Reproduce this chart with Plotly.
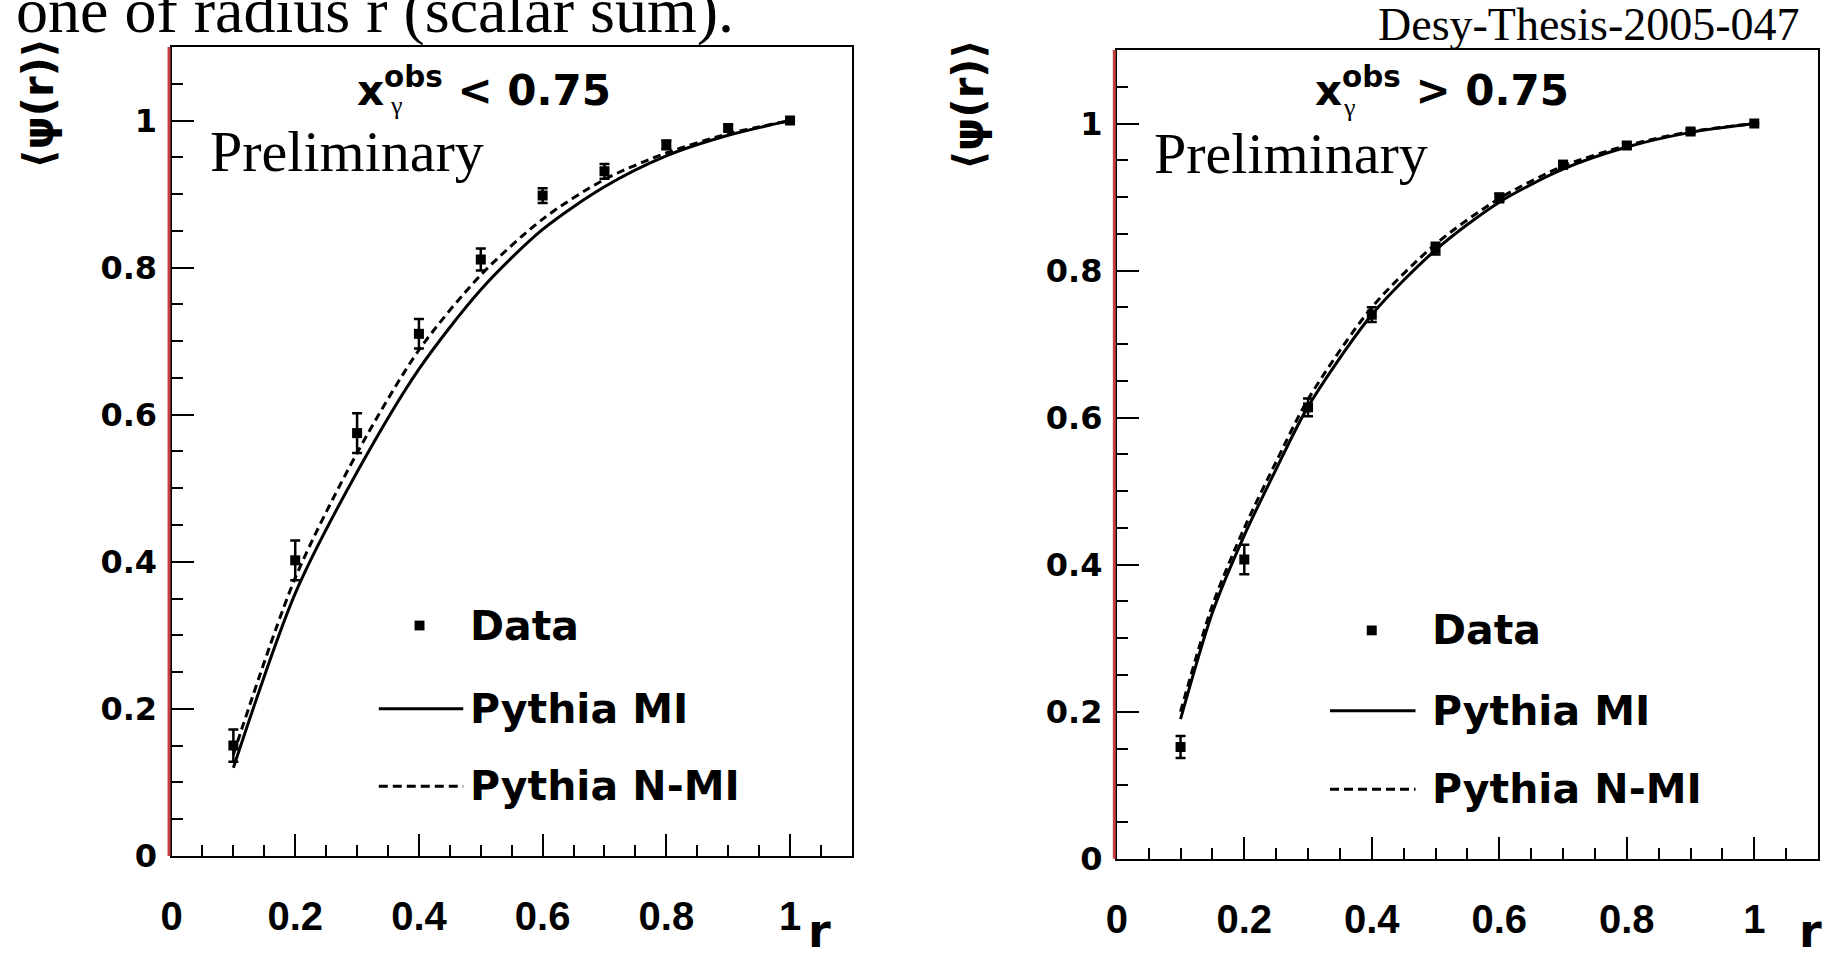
import plotly.graph_objects as go

# ---------------- data ----------------
R_DATA = [0.1, 0.2, 0.3, 0.4, 0.5, 0.6, 0.7, 0.8, 0.9, 1.0]

# x_gamma^obs < 0.75
LOW_DATA = [0.150, 0.402, 0.575, 0.710, 0.811, 0.898, 0.931, 0.967, 0.990, 1.0]
LOW_ERR = [0.022, 0.027, 0.027, 0.020, 0.015, 0.010, 0.010, 0.006, 0.004, 0.0]
LOW_R_CURVE = [0.1, 0.2, 0.3, 0.4, 0.5, 0.6, 0.7, 0.8, 0.9, 1.0]
LOW_MI = [0.120, 0.357, 0.522, 0.662, 0.770, 0.852, 0.910, 0.952, 0.980, 1.0]
LOW_NMI = [0.138, 0.378, 0.548, 0.688, 0.790, 0.866, 0.920, 0.956, 0.982, 1.0]

# x_gamma^obs > 0.75
HIGH_DATA = [0.152, 0.407, 0.614, 0.740, 0.830, 0.899, 0.944, 0.970, 0.989, 1.0]
HIGH_ERR = [0.015, 0.020, 0.012, 0.010, 0.008, 0.006, 0.005, 0.004, 0.003, 0.0]
HIGH_R_CURVE = [0.1, 0.15, 0.2, 0.25, 0.3, 0.4, 0.5, 0.6, 0.7, 0.8, 0.9, 1.0]
HIGH_MI = [0.190, 0.335, 0.440, 0.530, 0.615, 0.740, 0.828, 0.893, 0.938, 0.968, 0.988, 1.0]
HIGH_NMI = [0.200, 0.345, 0.450, 0.540, 0.625, 0.750, 0.836, 0.898, 0.942, 0.970, 0.989, 1.0]

PANEL_LABELS = ["x<sup>obs</sup> < 0.75", "x<sup>obs</sup> > 0.75"]
LEGEND_LABELS = ["Data", "Pythia MI", "Pythia N-MI"]
Y_TITLE = "⟨ψ(r)⟩"
X_TITLE = "r"
HEADER = "one of radius r (scalar sum)."
SOURCE = "Desy-Thesis-2005-047"
PRELIM = "Preliminary"

# ---------------- geometry helpers ----------------
W, H = 1826, 970


def px(x):
    return x / W


def py(y):
    return 1 - y / H


BOLD = "DejaVu Sans, Arial, sans-serif"
TICKX = "Liberation Sans, Arial, sans-serif"
SERIF = "Liberation Serif, Times New Roman, serif"

panels = [
    dict(xa="x", ya="y", xdom=[161.5, 846], ydom=[873, 48],
         data=LOW_DATA, err=LOW_ERR, rc=LOW_R_CURVE, mi=LOW_MI, nmi=LOW_NMI,
         label=PANEL_LABELS[0], label_x=346, gamma=(388, 108),
         leg_marker=(411, 638), leg_line=(370, 455), leg_text=460,
         leg_y=(638, 723, 802), prelim=(198, 155), psi=(28, 105), r=(813, 950)),
    dict(xa="x2", ya="y2", xdom=[1112.5, 1818], ydom=[876, 51],
         data=HIGH_DATA, err=HIGH_ERR, rc=HIGH_R_CURVE, mi=HIGH_MI, nmi=HIGH_NMI,
         label=PANEL_LABELS[1], label_x=1310, gamma=(1347, 110),
         leg_marker=(1369, 643), leg_line=(1327, 1413), leg_text=1428,
         leg_y=(643, 725, 805), prelim=(1148, 157), psi=(964, 107), r=(1810, 950)),
]

fig = go.Figure()
shapes = []
annotations = []

for p in panels:
    fig.add_trace(go.Scatter(x=p["rc"], y=p["mi"], mode="lines", xaxis=p["xa"], yaxis=p["ya"],
                             line=dict(color="black", width=3, shape="spline", smoothing=0.8),
                             name=LEGEND_LABELS[1], showlegend=False))
    fig.add_trace(go.Scatter(x=p["rc"], y=p["nmi"], mode="lines", xaxis=p["xa"], yaxis=p["ya"],
                             line=dict(color="black", width=3, dash="8px,5px", shape="spline", smoothing=0.8),
                             name=LEGEND_LABELS[2], showlegend=False))
    fig.add_trace(go.Scatter(x=R_DATA, y=p["data"], mode="markers", xaxis=p["xa"], yaxis=p["ya"],
                             marker=dict(symbol="square", size=10, color="black"),
                             error_y=dict(type="data", array=p["err"], color="black", thickness=2.5, width=5),
                             name=LEGEND_LABELS[0], showlegend=False))

    x0, x1 = p["xdom"]
    yb, yt = p["ydom"]
    # red stripe at the left frame edge
    shapes.append(dict(type="line", xref="paper", yref="paper", x0=px(x0 - 2.5), x1=px(x0 - 2.5),
                       y0=py(yb), y1=py(yt), line=dict(color="#c44040", width=3)))

    # manual legend
    mx, my = p["leg_marker"]
    shapes.append(dict(type="rect", xref="paper", yref="paper", x0=px(mx - 5), x1=px(mx + 5),
                       y0=py(my + 5), y1=py(my - 5), fillcolor="black", line=dict(width=0)))
    lx0, lx1 = p["leg_line"]
    shapes.append(dict(type="line", xref="paper", yref="paper", x0=px(lx0), x1=px(lx1),
                       y0=py(p["leg_y"][1]), y1=py(p["leg_y"][1]), line=dict(color="black", width=3)))
    shapes.append(dict(type="line", xref="paper", yref="paper", x0=px(lx0), x1=px(lx1),
                       y0=py(p["leg_y"][2]), y1=py(p["leg_y"][2]),
                       line=dict(color="black", width=3, dash="9px,5px")))
    for txt, yy in zip(LEGEND_LABELS, p["leg_y"]):
        annotations.append(dict(text=txt, xref="paper", yref="paper", x=px(p["leg_text"]), y=py(yy),
                                xanchor="left", yanchor="middle", showarrow=False,
                                font=dict(family=BOLD, size=41, color="black", weight="bold")))

    # panel label
    annotations.append(dict(text=p["label"], xref="paper", yref="paper", x=px(p["label_x"]), y=py(89),
                            xanchor="left", yanchor="middle", showarrow=False,
                            font=dict(family=BOLD, size=42, color="black", weight="bold")))
    gx, gy = p["gamma"]
    annotations.append(dict(text="γ", xref="paper", yref="paper", x=px(gx), y=py(gy),
                            xanchor="center", yanchor="middle", showarrow=False,
                            font=dict(family=SERIF, size=26, color="black")))
    # Preliminary
    prx, pry = p["prelim"]
    annotations.append(dict(text=PRELIM, xref="paper", yref="paper", x=px(prx), y=py(pry),
                            xanchor="left", yanchor="middle", showarrow=False,
                            font=dict(family=SERIF, size=58, color="black")))
    # y title
    sx, sy = p["psi"]
    annotations.append(dict(text=Y_TITLE, xref="paper", yref="paper", x=px(sx), y=py(sy),
                            xanchor="center", yanchor="middle", textangle=-90, showarrow=False,
                            font=dict(family=BOLD, size=42, color="black", weight="bold")))
    # x title
    rx, ry = p["r"]
    annotations.append(dict(text=X_TITLE, xref="paper", yref="paper", x=px(rx), y=py(ry),
                            xanchor="center", yanchor="middle", showarrow=False, borderpad=0,
                            font=dict(family=BOLD, size=46, color="black", weight="bold")))

annotations.append(dict(text=HEADER, xref="paper", yref="paper", x=px(3), y=py(11),
                        xanchor="left", yanchor="middle", showarrow=False,
                        font=dict(family=SERIF, size=64, color="black")))
annotations.append(dict(text=SOURCE, xref="paper", yref="paper", x=px(1802), y=py(25),
                        xanchor="right", yanchor="middle", showarrow=False,
                        font=dict(family=SERIF, size=46, color="black")))


def xaxis_cfg(p):
    return dict(domain=[px(p["xdom"][0]), px(p["xdom"][1])], range=[0, 1.1], anchor=p["ya"],
                showline=True, linecolor="black", linewidth=2, mirror=True,
                ticks="inside", ticklen=22, tickwidth=2, tickcolor="black",
                tickmode="linear", tick0=0, dtick=0.2,
                minor=dict(ticks="inside", ticklen=11, tickwidth=2, tickcolor="black", dtick=0.05, tick0=0),
                showgrid=False, zeroline=False, ticklabelstandoff=24,
                tickfont=dict(family=TICKX, size=40, color="black", weight="bold"))


def yaxis_cfg(p):
    return dict(domain=[py(p["ydom"][0]), py(p["ydom"][1])], range=[0, 1.1], anchor=p["xa"],
                showline=True, linecolor="black", linewidth=2, mirror=True,
                ticks="inside", ticklen=22, tickwidth=2, tickcolor="black",
                tickmode="linear", tick0=0, dtick=0.2,
                minor=dict(ticks="inside", ticklen=11, tickwidth=2, tickcolor="black", dtick=0.05, tick0=0),
                showgrid=False, zeroline=False, ticklabelstandoff=6,
                tickfont=dict(family=BOLD, size=32, color="black", weight="bold"))


fig.update_layout(
    width=W, height=H, margin=dict(l=0, r=0, t=0, b=0),
    paper_bgcolor="white", plot_bgcolor="white", showlegend=False,
    xaxis=xaxis_cfg(panels[0]), yaxis=yaxis_cfg(panels[0]),
    xaxis2=xaxis_cfg(panels[1]), yaxis2=yaxis_cfg(panels[1]),
    shapes=shapes, annotations=annotations,
)

fig.write_html("out.html")
